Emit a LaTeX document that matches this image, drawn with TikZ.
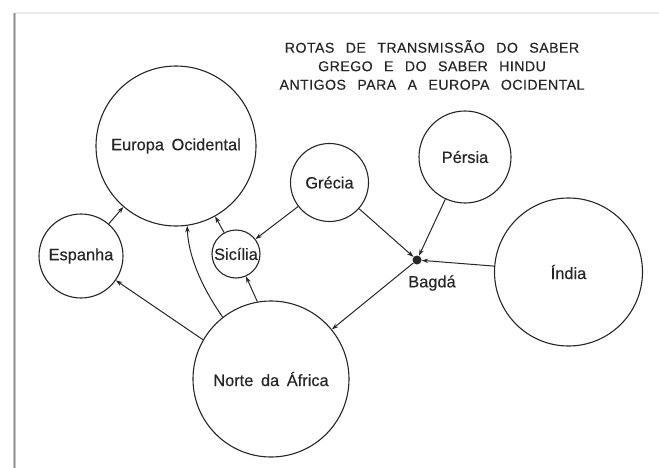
\documentclass[tikz,border=0pt]{standalone}
\usepackage{fontspec}
\setmainfont{Liberation Sans}
\newfontfamily\lblfont[WordSpace=1.66,FakeBold=0.4]{Liberation Sans}
\newfontfamily\ttlfont[LetterSpace=3,WordSpace=2.6,FakeBold=0.3]{Liberation Sans}
\usetikzlibrary{arrows.meta}
\definecolor{ink}{HTML}{262626}
\begin{document}
\begin{tikzpicture}[x=1pt,y=-1pt,
  place/.style={circle,draw=ink,line width=1.1pt,inner sep=0pt,
    font=\lblfont\fontsize{16.4}{19}\selectfont,text=ink},
  conn/.style={draw=ink,line width=1pt,-{Stealth[length=6.5pt,width=4.5pt]}},
  lbl/.style={font=\lblfont\fontsize{16.4}{19}\selectfont,text=ink,inner sep=0pt},
]
\useasboundingbox (0,0) rectangle (659,468);
% page edge shadow
\draw[line width=3pt,black!22] (14,13) -- (14,468);
\draw[line width=1pt,black!45] (14,13) -- (14,468);
\draw[line width=1.5pt,black!8] (15.5,13) -- (659,13);

% title
\node[font=\ttlfont\fontsize{14.2}{18.5}\selectfont,text=ink,align=center,inner sep=0pt] (title) at (432,65)
  {ROTAS DE TRANSMISSÃO DO SABER\\GREGO E DO SABER HINDU\\ANTIGOS PARA A EUROPA OCIDENTAL};

% places
\node[place,minimum size=160pt] (eur) at (176,146) {Europa Ocidental};
\node[place,minimum size=84pt]  (esp) at (81,256)  {Espanha};
\node[place,minimum size=48pt]  (sic) at (236,254) {Sicília};
\node[place,minimum size=156pt] (nor) at (271,379) {Norte da África};
\node[place,minimum size=78pt]  (gre) at (329.5,182.5) {Grécia};
\node[place,minimum size=92pt]  (per) at (465,157) {Pérsia};
\node[place,minimum size=148pt] (ind) at (568.5,272) {Índia};
\node[circle,fill=ink,inner sep=0pt,minimum size=9pt] (bag) at (417,260) {};
\node[lbl] (baglbl) at (432,283) {Bagdá};

% routes
\draw[conn] (esp) -- (eur);
\draw[conn] (nor.150) -- (esp.-35);
\draw[conn] (nor.128) .. controls +(-23,-33) and +(1,28) .. (eur.-82);
\draw[conn] (nor.100) -- (sic.-66);
\draw[conn] (sic) -- (eur);
\draw[conn] (gre) -- (sic);
\draw[conn] (gre) -- (bag);
\draw[conn] (per) -- (bag);
\draw[conn] (ind) -- (bag);
\draw[conn] (bag) -- (nor);
\end{tikzpicture}
\end{document}
